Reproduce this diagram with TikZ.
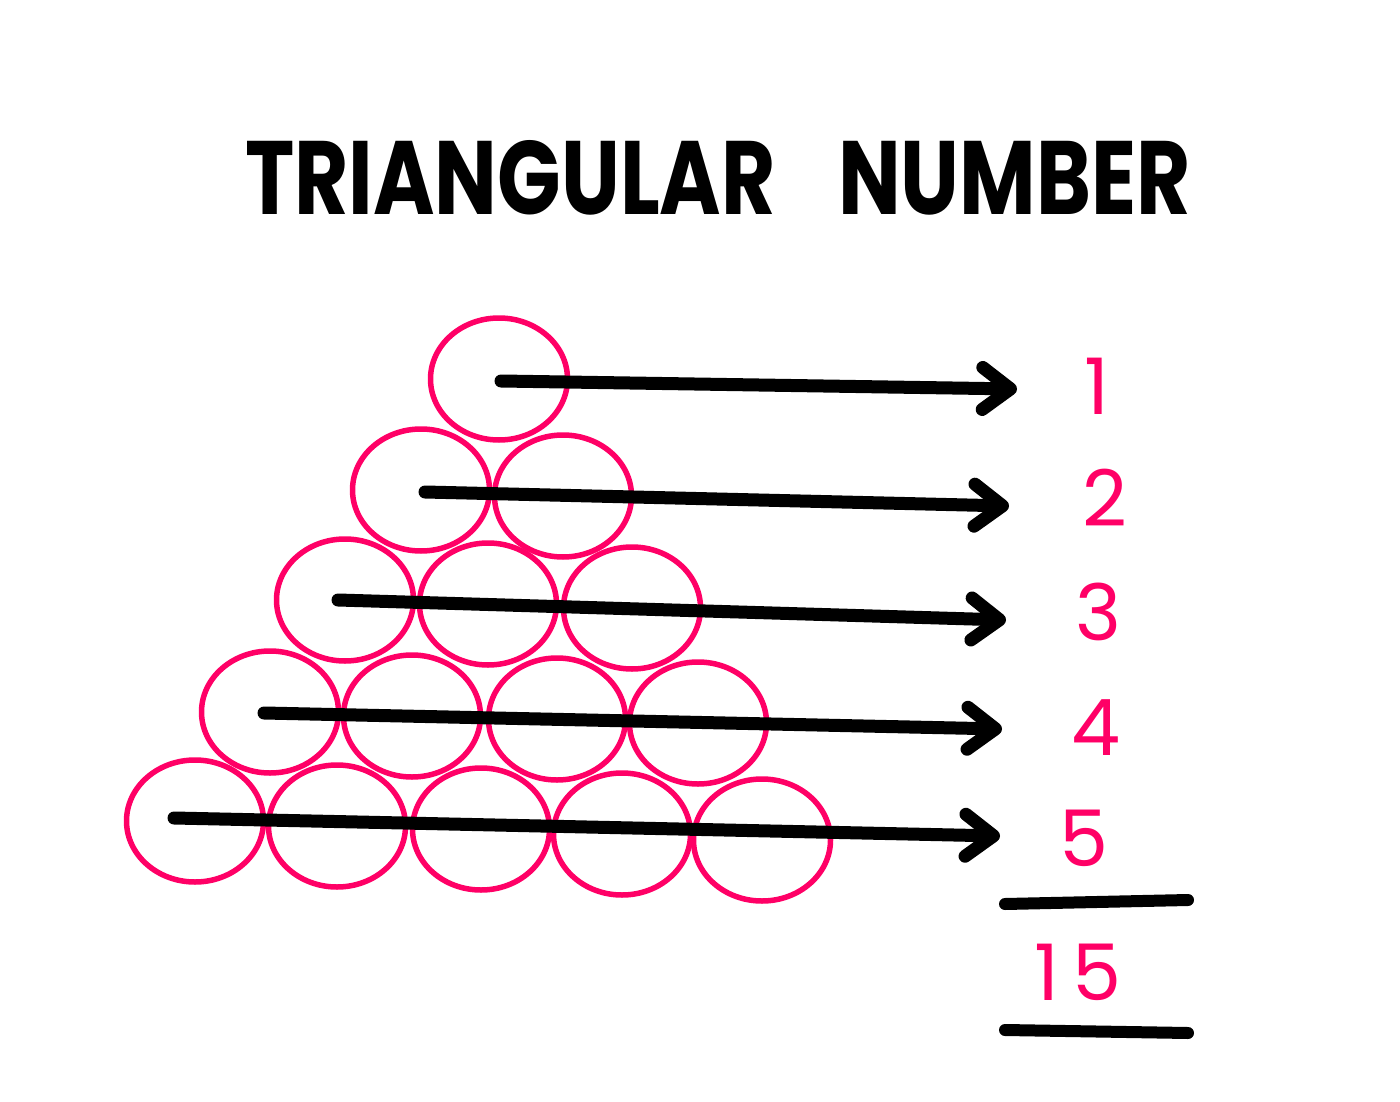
\documentclass[tikz,border=0pt]{standalone}
\usepackage{fontspec}
\setmainfont{Poppins}
\usetikzlibrary{arrows.meta,shapes.geometric}
\definecolor{hotpink}{HTML}{FF0066}
\begin{document}
\begin{tikzpicture}[x=1pt,y=-1pt,
  ball/.style={draw=hotpink,line width=5.5pt,ellipse,minimum width=137pt,minimum height=122pt,inner sep=0pt},
  arr/.style={line width=13pt,line cap=round,-{Straight Barb[length=28pt,width=42pt,round]}},
  num/.style={text=hotpink,font=\fontsize{78}{80}\selectfont,inner sep=0pt,anchor=center},
  rule/.style={line width=12pt,line cap=round}]
\useasboundingbox (0,0) rectangle (1400,1102);
% title
\node[inner sep=0pt] (title) at (718,178) {\resizebox{945pt}{74pt}{\bfseries TRIANGULAR\hspace{0.75em}NUMBER}};
% balls
\node[ball] (b11) at (499,379) {};
\node[ball] (b21) at (421,490) {};
\node[ball] (b22) at (563,496) {};
\node[ball] (b31) at (345,600) {};
\node[ball] (b32) at (488,604) {};
\node[ball] (b33) at (632,608) {};
\node[ball] (b41) at (270,712) {};
\node[ball] (b42) at (412,716) {};
\node[ball] (b43) at (557,719) {};
\node[ball] (b44) at (698,723) {};
\node[ball] (b51) at (195,821) {};
\node[ball] (b52) at (337,826) {};
\node[ball] (b53) at (481,829) {};
\node[ball] (b54) at (622,834) {};
\node[ball] (b55) at (762,840) {};
% numbers
\node[num] (n1) at (1097,386) {1};
\node[num] (n2) at (1105,498) {2};
\node[num] (n3) at (1098,612) {3};
\node[num] (n4) at (1096,728) {4};
\node[num] (n5) at (1084,838) {5};
\node[num] (n15) at (1078,972) {1\hspace{0.18em}5};
% arrow endpoints
\coordinate (s1) at (501,381);  \coordinate (e1) at (1017,389);
\coordinate (s2) at (425,492);  \coordinate (e2) at (1009,506);
\coordinate (s3) at (338,600);  \coordinate (e3) at (1006,620);
\coordinate (s4) at (264,713);  \coordinate (e4) at (1002,729);
\coordinate (s5) at (174,818);  \coordinate (e5) at (1000,836);
\draw[arr] (s1) -- (e1);
\draw[arr] (s2) -- (e2);
\draw[arr] (s3) -- (e3);
\draw[arr] (s4) -- (e4);
\draw[arr] (s5) -- (e5);
% sum rules
\coordinate (r1a) at (1005,904); \coordinate (r1b) at (1188,900);
\coordinate (r2a) at (1005,1030); \coordinate (r2b) at (1188,1033);
\draw[rule] (r1a) -- (r1b);
\draw[rule] (r2a) -- (r2b);
\end{tikzpicture}
\end{document}
